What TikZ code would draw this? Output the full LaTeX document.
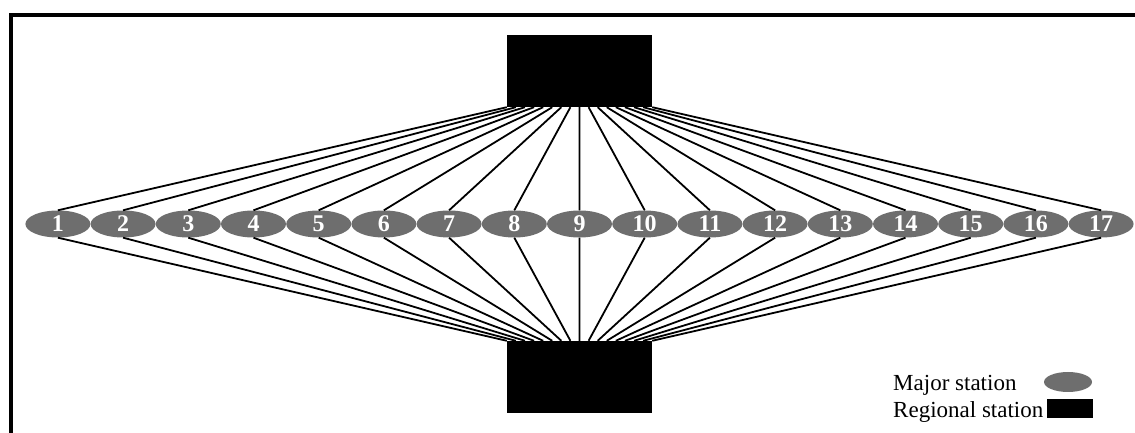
\documentclass[tikz,border=0pt]{standalone}
\usepackage{fontspec}
\setmainfont{Liberation Serif}
\usepackage{xcolor}
\usetikzlibrary{positioning,shapes.geometric,calc}
\definecolor{stgray}{HTML}{6E6E6E}

\begin{document}
\begin{tikzpicture}[
  x=1pt, y=1pt,
  major_st/.style   ={ellipse, fill=stgray, minimum width=65pt, minimum height=27pt, inner sep=0pt, text=white, font=\fontsize{24}{24}\selectfont\bfseries},
  regional_st/.style={fill=black, minimum width=145pt, minimum height=72pt, inner sep=0pt},
  link/.style       ={line width=1.8pt, black},
  frame/.style      ={line width=4pt, black},
  lgd/.style        ={font=\fontsize{23}{23}\selectfont, inner sep=0pt, anchor=base west},
]
  \useasboundingbox (0,0) rectangle (1135,433);
  \draw[frame] (11,0) -- (11,418) -- (1135,418);

  \node[regional_st] (hub_top) at (579.5,362) {};
  \node[regional_st] (hub_bot) at (579.5,56)  {};
  \foreach \i in {1,...,17}
    \node[major_st] (st\i) at ({579.5+(\i-9)*65.2},209) {\i};

  \foreach \i in {1,...,17} {
    \draw[link] (st\i.north) -- ($(hub_top.south west)!{(\i-1)/16}!(hub_top.south east)$);
    \draw[link] (st\i.south) -- ($(hub_bot.north west)!{(\i-1)/16}!(hub_bot.north east)$);
  }

  % legend
  \node[lgd] (lg_major) at (893,42) {Major station};
  \node[lgd] (lg_reg)   at (893,15) {Regional station};
  \node[ellipse, fill=stgray, minimum width=48pt, minimum height=20pt, inner sep=0pt] (lg_ell) at (1068,51) {};
  \node[fill=black, minimum width=46pt, minimum height=19pt, inner sep=0pt] (lg_rect) at (1070,24.5) {};
\end{tikzpicture}
\end{document}
